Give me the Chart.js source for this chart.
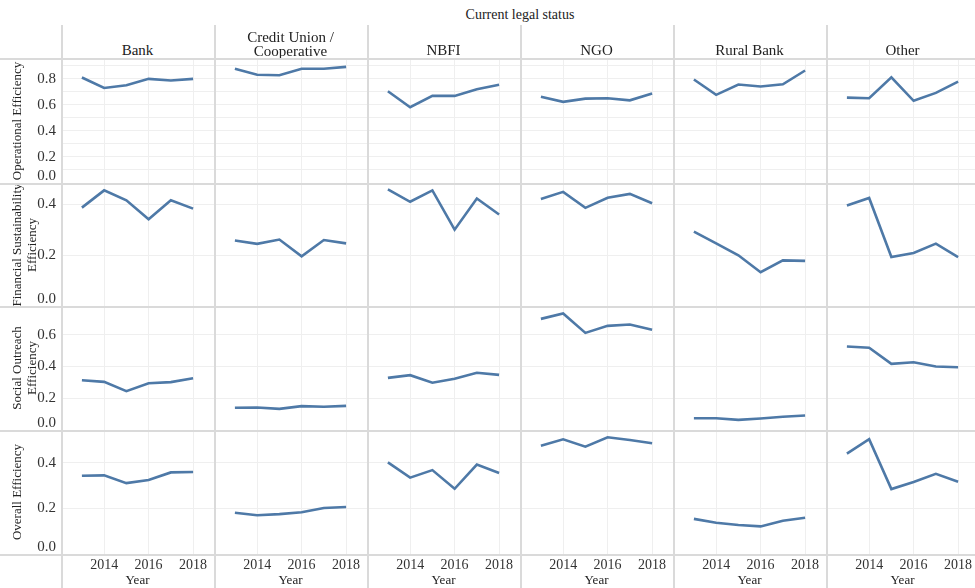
<!DOCTYPE html>
<html>
<head>
<meta charset="utf-8">
<script src="https://cdn.jsdelivr.net/npm/chart.js@4.4.0/dist/chart.umd.min.js"></script>
<style>
  html, body { margin: 0; padding: 0; background: #fff; }
  #wrap { position: relative; width: 975px; height: 588px; overflow: hidden;
    font-family: "Liberation Serif", "Times New Roman", serif; color: #222; }
  canvas { position: absolute; }
  .txt { position: absolute; white-space: nowrap; text-align: center; transform: translate(-50%, -50%); }
  .rot { transform: translate(-50%, -50%) rotate(-90deg); }
  .sep { position: absolute; background: #dadada; z-index: 5; }
</style>
</head>
<body>
<div id="wrap"></div>
<script>
const years = [2013, 2014, 2015, 2016, 2017, 2018]
const categories = ['Bank', 'Credit Union /\nCooperative', 'NBFI', 'NGO', 'Rural Bank', 'Other']
const rowTitles = ['Operational Efficiency', 'Financial Sustainability\nEfficiency', 'Social Outreach\nEfficiency', 'Overall Efficiency']

// one array per category, same order as categories
const operational = [
  [0.810, 0.730, 0.750, 0.800, 0.787, 0.800],
  [0.877, 0.831, 0.828, 0.877, 0.877, 0.892],
  [0.705, 0.582, 0.669, 0.669, 0.720, 0.754],
  [0.662, 0.623, 0.648, 0.651, 0.635, 0.687],
  [0.795, 0.677, 0.756, 0.741, 0.758, 0.864],
  [0.656, 0.651, 0.812, 0.631, 0.692, 0.779]
]
const financial = [
  [0.388, 0.456, 0.417, 0.342, 0.417, 0.384],
  [0.258, 0.245, 0.262, 0.196, 0.260, 0.247],
  [0.460, 0.411, 0.456, 0.301, 0.424, 0.361],
  [0.422, 0.450, 0.387, 0.427, 0.442, 0.405],
  [0.293, 0.247, 0.200, 0.133, 0.180, 0.178],
  [0.396, 0.426, 0.193, 0.209, 0.246, 0.193]
]
const social = [
  [0.313, 0.303, 0.244, 0.294, 0.301, 0.326],
  [0.140, 0.142, 0.133, 0.150, 0.146, 0.152],
  [0.328, 0.345, 0.297, 0.322, 0.360, 0.347],
  [0.699, 0.733, 0.611, 0.655, 0.664, 0.630],
  [0.074, 0.074, 0.064, 0.072, 0.083, 0.091],
  [0.525, 0.517, 0.416, 0.426, 0.399, 0.395]
]
const overall = [
  [0.343, 0.345, 0.311, 0.325, 0.358, 0.360],
  [0.181, 0.170, 0.175, 0.183, 0.202, 0.206],
  [0.402, 0.335, 0.368, 0.286, 0.392, 0.355],
  [0.475, 0.503, 0.471, 0.512, 0.500, 0.486],
  [0.154, 0.137, 0.127, 0.121, 0.146, 0.159],
  [0.440, 0.504, 0.285, 0.316, 0.352, 0.317]
]

const rows = [operational, financial, social, overall]
const yMax = [0.96, 0.485, 0.78, 0.544]
const yStep = [0.1, 0.2, 0.2, 0.2]

const FONT = '"Liberation Serif", "Times New Roman", serif'
const colLeft = 61
const colW = 153
const rowEdges = [58, 183, 306, 430, 554]
const wrap = document.getElementById('wrap')

function addText(text, x, y, size, cls, lh) {
  const d = document.createElement('div')
  d.className = 'txt' + (cls ? ' ' + cls : '')
  d.style.left = x + 'px'
  d.style.top = y + 'px'
  d.style.fontSize = size + 'px'
  d.style.lineHeight = (lh || size) + 'px'
  d.innerHTML = text.split('\n').join('<br>')
  wrap.appendChild(d)
}

function addSep(x, y, w, h) {
  const d = document.createElement('div')
  d.className = 'sep'
  d.style.left = x + 'px'
  d.style.top = y + 'px'
  d.style.width = w + 'px'
  d.style.height = h + 'px'
  wrap.appendChild(d)
}

function yLabel(r) {
  return (v) => {
    const k = Math.round(v * 10)
    if (k === 0) return ['0.0', '']  // lift the bottom label inside the pane
    if (r === 0 && k % 2 !== 0) return ''
    return (k / 10).toFixed(1)
  }
}

// fixed axis sizes so every pane has the same plot area
function fixSize(prop, size) {
  return (s) => {
    s[prop] = size
    s.paddingTop = 0
    s.paddingBottom = 0
    s.paddingLeft = 0
    s.paddingRight = 0
  }
}

function makePanel(r, c) {
  const padL = c === 0 ? 45 : 0
  const padB = r === 3 ? 34 : 0
  const top = rowEdges[r]
  const h = rowEdges[r + 1] - top
  const cv = document.createElement('canvas')
  cv.width = colW + padL
  cv.height = h + padB
  cv.style.left = (colLeft + c * colW - padL) + 'px'
  cv.style.top = top + 'px'
  wrap.appendChild(cv)

  const values = rows[r][c]
  new Chart(cv.getContext('2d'), {
    type: 'line',
    data: {
      datasets: [{
        data: years.map((yr, i) => ({ x: yr, y: values[i] })),
        borderColor: '#4e79a7',
        borderWidth: 2.6,
        pointRadius: 0,
        tension: 0,
        fill: false
      }]
    },
    options: {
      responsive: false,
      animation: false,
      events: [],
      layout: { padding: 0 },
      plugins: { legend: { display: false }, tooltip: { enabled: false } },
      scales: {
        x: {
          type: 'linear',
          min: 2012.06,
          max: 2018.94,
          afterFit: fixSize('height', padB),
          border: { display: false },
          grid: { color: '#efefef', drawTicks: false },
          ticks: {
            display: r === 3,
            stepSize: 2,
            includeBounds: false,
            autoSkip: false,
            maxRotation: 0,
            padding: 3,
            color: '#333',
            font: { family: FONT, size: 14 },
            callback: (v) => String(v)
          },
          title: {
            display: r === 3,
            text: 'Year',
            padding: 0,
            color: '#222',
            font: { family: FONT, size: 13 }
          }
        },
        y: {
          min: 0,
          max: yMax[r],
          afterFit: fixSize('width', padL),
          border: { display: false },
          grid: { color: '#efefef', drawTicks: false },
          ticks: {
            display: c === 0,
            stepSize: yStep[r],
            includeBounds: false,
            autoSkip: false,
            padding: 5,
            color: '#333',
            font: { family: FONT, size: 15, lineHeight: '14px' },
            callback: yLabel(r)
          }
        }
      }
    }
  })
}

for (let r = 0; r < 4; r++) {
  for (let c = 0; c < 6; c++) makePanel(r, c)
}

// headers and row titles
addText('Current legal status', 520, 15, 14)
categories.forEach((name, c) => {
  const cx = colLeft + c * colW + colW / 2
  addText(name, cx, name.includes('\n') ? 44 : 50, 15, '', 14)
})
rowTitles.forEach((name, r) => {
  const cy = (rowEdges[r] + rowEdges[r + 1]) / 2
  addText(name, name.includes('\n') ? 23.5 : 16, cy, 13, 'rot', 15)
})

// pane borders
for (let c = 0; c < 6; c++) addSep(colLeft + c * colW - 0.5, 25, 2, 563)
rowEdges.forEach((y) => addSep(0, y - 0.5, 975, 2))
</script>
</body>
</html>
